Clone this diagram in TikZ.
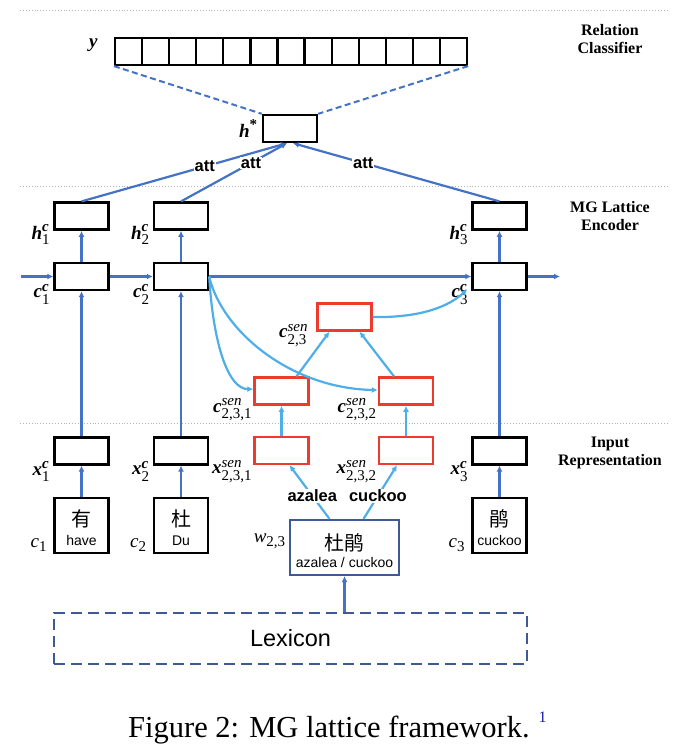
\documentclass[tikz,border=0pt]{standalone}
\usepackage{amsmath}
\usepackage{xcolor}
\usepackage{fontspec}
\setmainfont{Liberation Serif}
\setsansfont{Liberation Sans}
\newfontfamily\cjk{Noto Sans CJK SC}
\usepackage{tikz}
\usetikzlibrary{arrows.meta}
\usetikzlibrary{positioning}
\usetikzlibrary{calc}
\DeclareMathSizes{19}{19}{15}{12}
\definecolor{nnblue}{HTML}{4472C4}
\definecolor{senblue}{HTML}{4DAEE8}
\definecolor{senred}{HTML}{EE3B2E}
\definecolor{lexblue}{HTML}{3D5A94}
\definecolor{guidegray}{HTML}{B4B4B4}
\definecolor{linkblue}{HTML}{1A1AA6}
\tikzstyle{unit} = [rectangle,draw=black,fill=white,line width=2.4pt,
minimum width=54pt, minimum height=27pt, inner sep=0pt]
\tikzstyle{senunit} = [unit, draw=senred]
\tikzstyle{ycell} = [unit, minimum width=27.08pt, line width=2.2pt]
\tikzstyle{charunit} = [unit, minimum height=55pt, align=center,
font=\fontsize{14}{19.5}\selectfont]
\tikzstyle{wordunit} = [unit, draw=lexblue, line width=2.2pt, minimum width=109pt,
minimum height=55pt, align=center, font=\fontsize{14}{17}\selectfont]
\tikzstyle{lexbox} = [rectangle, draw=lexblue, line width=2.4pt, dash pattern=on 11pt off 6pt,
minimum width=473pt, minimum height=51pt, font=\sffamily\fontsize{23.5}{26}\selectfont]
\tikzstyle{vlabel} = [inner sep=0pt, font=\fontsize{19}{21}\selectfont]
\tikzstyle{partlabel} = [align=center, inner sep=0pt, font=\fontsize{16}{18}\selectfont\bfseries]
\tikzstyle{attlabel} = [fill=white, inner sep=1pt, font=\sffamily\bfseries\fontsize{16.5}{18}\selectfont]
\tikzstyle{flow} = [->, >={Latex[length=6pt,width=6pt]}, draw=nnblue, line width=2.2pt]
\tikzstyle{senflow} = [flow, draw=senblue]
\tikzstyle{projline} = [draw=nnblue, line width=2pt, dash pattern=on 6pt off 3.5pt]
\newcommand{\nodelbl}[3]{$\text{\bfseries\itshape #1}^{\text{#2}}_{\text{#3}}$}
\newcommand{\charpair}[3][17.6pt]{{\cjk\fontsize{20}{20}\selectfont\rule{0pt}{#1}#2}\\{\sffamily #3}}
\newcommand{\nedge}[3][]{ %
  % Connect all nodes #2 to all nodes #3.
  \foreach \src in {#2} { %
    \foreach \dst in {#3} { %
      \path (\src) edge [flow, #1] (\dst) ;%
    }
  }
}
\begin{document}
\begin{tikzpicture}[x=1pt, y=-1pt]
  \useasboundingbox (0,0) rectangle (690,750);
  % guide lines
  \foreach \gy in {10,186,423}
    \draw[guidegray, line width=0.9pt, dotted] (20,\gy) -- (668,\gy);
  % relation classifier
  \foreach \k in {0,...,12}
    \node[ycell] (y\k) at ({128.54+27.08*\k},51.5) {};
  \node[vlabel, left=16pt of y0, yshift=6.5pt] (ylab) {\textbf{\textit{y}}};
  \node[unit] (hstar) at (290,128.5) {};
  \node[vlabel, left=4pt of hstar] (hstarlab) {$\text{\bfseries\itshape h}^{\text{\bfseries *}}$};
  % encoder
  \node[unit] (c1) at (81.5,276.5) {};
  \node[unit] (c2) at (181,276.5) {};
  \node[unit] (c3) at (499.5,276.5) {};
  \coordinate (cin) at (21,276.5);
  \coordinate (cout) at (560,276.5);
  \node[unit, above=31pt of c1] (h1) {};
  \node[unit, above=31pt of c2] (h2) {};
  \node[unit, above=31pt of c3] (h3) {};
  % input
  \node[unit, below=145pt of c1] (x1) {};
  \node[unit, below=145pt of c2] (x2) {};
  \node[unit, below=145pt of c3] (x3) {};
  \node[charunit, below=31pt of x1] (ch1) {\charpair[21.6pt]{有}{have}};
  \node[charunit, below=31pt of x2] (ch2) {\charpair[21.6pt]{杜}{Du}};
  \node[charunit, below=31pt of x3] (ch3) {\charpair[21.6pt]{鹃}{cuckoo}};
  % sentence level
  \node[senunit] (xs1) at (281.5,450.5) {};
  \node[senunit] (xs2) at (406,450.5) {};
  \node[senunit, above=30pt of xs1] (cs1) {};
  \node[senunit, above=30pt of xs2] (cs2) {};
  \node[senunit] (cs) at (344.5,317) {};
  % word and lexicon
  \node[wordunit] (w23) at (344.5,547.5) {\charpair[23pt]{杜鹃}{azalea / cuckoo}};
  \node[lexbox] (lex) at (290.5,638.5) {Lexicon};
  % labels
  \node[vlabel, left=3pt of h1.south west, yshift=-4pt] (h1lab) {\nodelbl{h}{\bfseries\itshape c}{1}};
  \node[vlabel, left=3pt of h2.south west, yshift=-4pt] (h2lab) {\nodelbl{h}{\bfseries\itshape c}{2}};
  \node[vlabel, left=3pt of h3.south west, yshift=-4pt] (h3lab) {\nodelbl{h}{\bfseries\itshape c}{3}};
  \node[vlabel, left=3pt of c1.south west, yshift=-3pt] (c1lab) {\nodelbl{c}{\bfseries\itshape c}{1}};
  \node[vlabel, left=3pt of c2.south west, yshift=-3pt] (c2lab) {\nodelbl{c}{\bfseries\itshape c}{2}};
  \node[vlabel, left=3pt of c3.south west, yshift=-3pt] (c3lab) {\nodelbl{c}{\bfseries\itshape c}{3}};
  \node[vlabel, left=3pt of x1.south west, yshift=-6pt] (x1lab) {\nodelbl{x}{\bfseries\itshape c}{1}};
  \node[vlabel, left=3pt of x2.south west, yshift=-6pt] (x2lab) {\nodelbl{x}{\bfseries\itshape c}{2}};
  \node[vlabel, left=3pt of x3.south west, yshift=-6pt] (x3lab) {\nodelbl{x}{\bfseries\itshape c}{3}};
  \node[vlabel, left=8pt of cs.south west, yshift=-4pt] (cslab) {\nodelbl{c}{\itshape sen}{2,3}};
  \node[vlabel, left=1pt of cs1.south west, yshift=-4pt] (cs1lab) {\nodelbl{c}{\itshape sen}{2,3,1}};
  \node[vlabel, left=1pt of cs2.south west, yshift=-4pt] (cs2lab) {\nodelbl{c}{\itshape sen}{2,3,2}};
  \node[vlabel, left=1pt of xs1.south west, yshift=-6pt] (xs1lab) {\nodelbl{x}{\itshape sen}{2,3,1}};
  \node[vlabel, left=1pt of xs2.south west, yshift=-6pt] (xs2lab) {\nodelbl{x}{\itshape sen}{2,3,2}};
  \node[vlabel, left=6pt of ch1.south west, yshift=9pt] (ch1lab) {$\text{\itshape c}_{\text{1}}$};
  \node[vlabel, left=6pt of ch2.south west, yshift=9pt] (ch2lab) {$\text{\itshape c}_{\text{2}}$};
  \node[vlabel, left=6pt of ch3.south west, yshift=9pt] (ch3lab) {$\text{\itshape c}_{\text{3}}$};
  \node[vlabel, left=3pt of w23, yshift=6pt] (w23lab) {$\text{\itshape w}_{\text{2,3}}$};
  % part names
  \node[partlabel] (partcls) at (610,39) {Relation\\Classifier};
  \node[partlabel] (partenc) at (610,216) {MG Lattice\\Encoder};
  \node[partlabel] (partinp) at (610,452.5) {Input\\Representation};
  % caption
  \node[anchor=base west, inner sep=0pt, font=\fontsize{30.5}{34}\selectfont] (caption) at (128,737)
    {Figure 2: MG lattice framework.\hspace{9pt}{\fontsize{16}{16}\selectfont\raisebox{15pt}{\color{linkblue}1}}};

  % edges
  % classifier
  \draw[projline] (y0.south west) -- (hstar.north west);
  \draw[projline] (y12.south east) -- (hstar.north east);
  % attention
  \draw[flow] (h1.north) -- ([xshift=-3pt]hstar.south) node[attlabel, pos=0.6] (att1) {att};
  \draw[flow] (h2.north) -- ([xshift=-3pt]hstar.south) node[attlabel, pos=0.66] (att2) {att};
  \draw[flow] (h3.north) -- ([xshift=3pt]hstar.south) node[attlabel, pos=0.66] (att3) {att};
  % encoder
  \nedge {cin} {c1}
  \nedge {c1} {c2}
  \nedge {c2} {c3}
  \nedge {c3} {cout}
  \nedge {c1} {h1}
  \nedge {c2} {h2}
  \nedge {c3} {h3}
  \nedge {x1} {c1}
  \nedge {x2} {c2}
  \nedge {x3} {c3}
  \nedge {ch1} {x1}
  \nedge {ch2} {x2}
  \nedge {ch3} {x3}
  % sentence level
  \nedge[senflow] {xs1} {cs1}
  \nedge[senflow] {xs2} {cs2}
  \draw[senflow] ([xshift=15pt]cs1.north) -- ([xshift=-15pt]cs.south);
  \draw[senflow] ([xshift=-12pt]cs2.north) -- ([xshift=15pt]cs.south);
  \draw[senflow] (c2.east) .. controls +(4,68) and +(-25,0) .. ([yshift=2pt]cs1.west);
  \draw[senflow] (c2.east) .. controls +(12,53) and +(-89,-2) .. ([yshift=1pt]cs2.west);
  \draw[senflow] (cs.east) .. controls +(48,1) and +(-18,17) .. ([xshift=-4pt,yshift=2pt]c3.south west);
  % word
  \draw[senflow] ([xshift=-15pt]w23.north) -- ([xshift=8pt]xs1.south) node[attlabel, pos=0.43] (azl) {azalea};
  \draw[senflow] ([xshift=19pt]w23.north) -- ([xshift=-9pt]xs2.south) node[attlabel, pos=0.43] (cko) {cuckoo};
  \draw[flow] (lex.north -| w23) -- (w23);
\end{tikzpicture}
\end{document}
